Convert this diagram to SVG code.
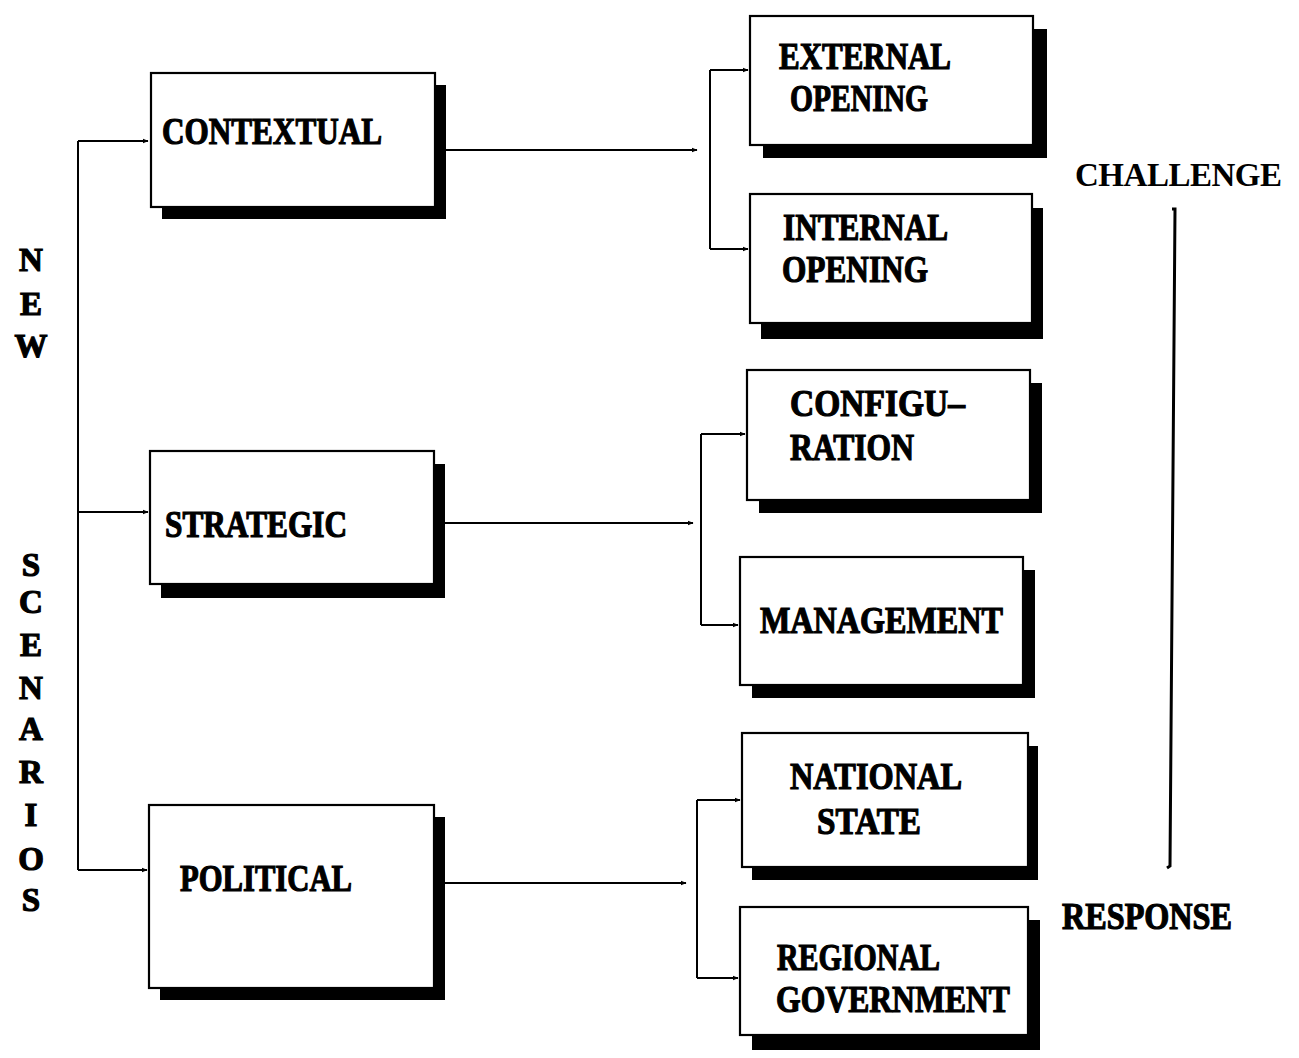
<svg xmlns="http://www.w3.org/2000/svg" width="1299" height="1058" viewBox="0 0 1299 1058">
<style>
.box{fill:#fff;stroke:#000;stroke-width:2.2}
.sh{fill:#000}
.t{font-family:"Liberation Serif","DejaVu Serif",serif;font-weight:bold;font-size:37px;fill:#000;stroke:#000;stroke-width:1.2}
.v{font-family:"Liberation Serif","DejaVu Serif",serif;font-weight:bold;font-size:33px;fill:#000;stroke:#000;stroke-width:1.2;text-anchor:middle}
.c{fill:none;stroke:#000;stroke-width:2}
</style>
<defs>
<marker id="a" viewBox="0 0 10 10" refX="9" refY="5" markerWidth="6" markerHeight="6" markerUnits="userSpaceOnUse" orient="auto">
<path d="M0,1 L10,5 L0,9 Z" fill="#000"/>
</marker>
</defs>
<rect width="1299" height="1058" fill="#fff"/>
<g id="connectors">
<path class="c" d="M78,141 V870"/>
<path class="c" d="M78,141 H148" marker-end="url(#a)"/>
<path class="c" d="M78,512 H148" marker-end="url(#a)"/>
<path class="c" d="M78,870 H147" marker-end="url(#a)"/>
<path class="c" d="M446,150 H697" marker-end="url(#a)"/>
<path class="c" d="M710,70 V249"/>
<path class="c" d="M710,70 H748" marker-end="url(#a)"/>
<path class="c" d="M710,249 H748" marker-end="url(#a)"/>
<path class="c" d="M445,523 H693" marker-end="url(#a)"/>
<path class="c" d="M701,434 V625"/>
<path class="c" d="M701,434 H745" marker-end="url(#a)"/>
<path class="c" d="M701,625 H738" marker-end="url(#a)"/>
<path class="c" d="M445,883 H686" marker-end="url(#a)"/>
<path class="c" d="M697,800 V978"/>
<path class="c" d="M697,800 H740" marker-end="url(#a)"/>
<path class="c" d="M697,978 H738" marker-end="url(#a)"/>
<path class="c" style="stroke-width:3" d="M1172,209 H1175 L1170,866 L1167,868"/>
</g>
<g id="contextual">
<rect class="sh" x="162" y="85" width="284" height="134"/>
<rect class="box" x="151" y="73" width="284" height="134"/>
<text class="t" x="162" y="144" textLength="220" lengthAdjust="spacingAndGlyphs">CONTEXTUAL</text>
</g>
<g id="strategic">
<rect class="sh" x="161" y="464" width="284" height="134"/>
<rect class="box" x="150" y="451" width="284" height="133"/>
<text class="t" x="165" y="537" textLength="182" lengthAdjust="spacingAndGlyphs">STRATEGIC</text>
</g>
<g id="political">
<rect class="sh" x="160" y="817" width="285" height="183"/>
<rect class="box" x="149" y="805" width="285" height="183"/>
<text class="t" x="180" y="891" textLength="172" lengthAdjust="spacingAndGlyphs">POLITICAL</text>
</g>
<g id="external-opening">
<rect class="sh" x="763" y="29" width="284" height="129"/>
<rect class="box" x="750" y="16" width="283" height="129"/>
<text class="t" x="779" y="69" textLength="172" lengthAdjust="spacingAndGlyphs">EXTERNAL</text>
<text class="t" x="790" y="111" textLength="138" lengthAdjust="spacingAndGlyphs">OPENING</text>
</g>
<g id="internal-opening">
<rect class="sh" x="761" y="208" width="282" height="131"/>
<rect class="box" x="750" y="194" width="282" height="129"/>
<text class="t" x="783" y="240" textLength="165" lengthAdjust="spacingAndGlyphs">INTERNAL</text>
<text class="t" x="782" y="282" textLength="146" lengthAdjust="spacingAndGlyphs">OPENING</text>
</g>
<g id="configuration">
<rect class="sh" x="759" y="383" width="283" height="130"/>
<rect class="box" x="747" y="370" width="283" height="130"/>
<text class="t" x="790" y="416" textLength="175" lengthAdjust="spacingAndGlyphs">CONFIGU–</text>
<text class="t" x="790" y="460" textLength="124" lengthAdjust="spacingAndGlyphs">RATION</text>
</g>
<g id="management">
<rect class="sh" x="752" y="570" width="283" height="128"/>
<rect class="box" x="740" y="557" width="283" height="128"/>
<text class="t" x="760" y="633" textLength="243" lengthAdjust="spacingAndGlyphs">MANAGEMENT</text>
</g>
<g id="national-state">
<rect class="sh" x="752" y="746" width="286" height="134"/>
<rect class="box" x="742" y="733" width="286" height="134"/>
<text class="t" x="790" y="789" textLength="172" lengthAdjust="spacingAndGlyphs">NATIONAL</text>
<text class="t" x="817" y="834" textLength="104" lengthAdjust="spacingAndGlyphs">STATE</text>
</g>
<g id="regional-government">
<rect class="sh" x="752" y="920" width="288" height="130"/>
<rect class="box" x="740" y="907" width="288" height="128"/>
<text class="t" x="777" y="970" textLength="163" lengthAdjust="spacingAndGlyphs">REGIONAL</text>
<text class="t" x="776" y="1012" textLength="234" lengthAdjust="spacingAndGlyphs">GOVERNMENT</text>
</g>
<g id="new-scenarios">
<text class="v" x="31" y="271">N</text>
<text class="v" x="31" y="315">E</text>
<text class="v" x="31" y="357">W</text>
<text class="v" x="31" y="576">S</text>
<text class="v" x="31" y="613">C</text>
<text class="v" x="31" y="656">E</text>
<text class="v" x="31" y="699">N</text>
<text class="v" x="31" y="740">A</text>
<text class="v" x="31" y="783">R</text>
<text class="v" x="31" y="826">I</text>
<text class="v" x="31" y="870">O</text>
<text class="v" x="31" y="911">S</text>
</g>
<g id="challenge">
<text x="1075" y="186" font-family="Liberation Serif, serif" font-weight="bold" font-size="33" textLength="207" lengthAdjust="spacing">CHALLENGE</text>
</g>
<g id="response">
<text class="t" x="1062" y="929" textLength="170" lengthAdjust="spacingAndGlyphs">RESPONSE</text>
</g>
</svg>
